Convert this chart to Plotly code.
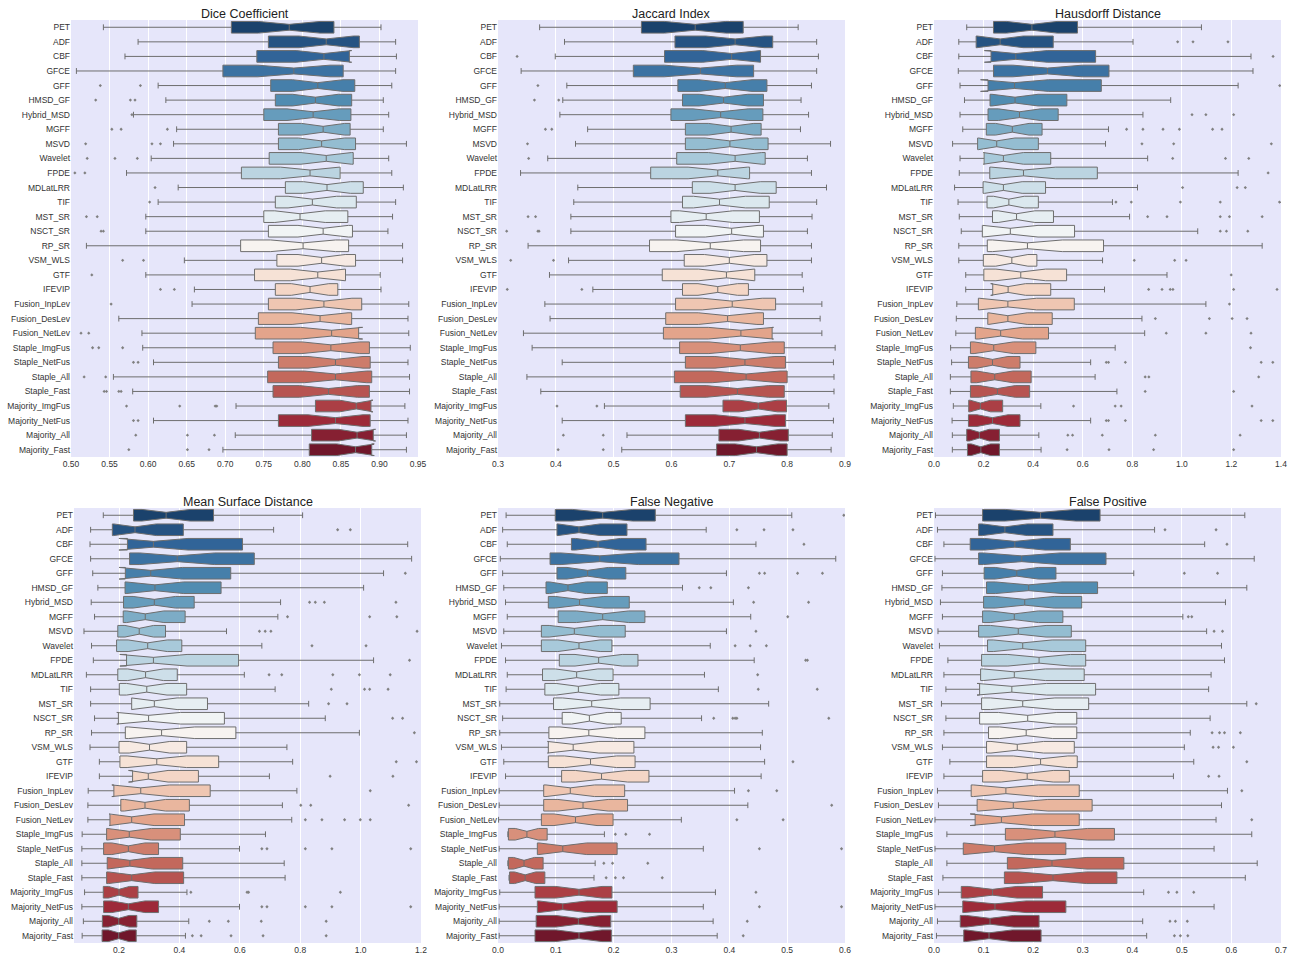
import colorsys
import plotly.graph_objects as go

methods = ["PET", "ADF", "CBF", "GFCE", "GFF", "HMSD_GF", "Hybrid_MSD", "MGFF", "MSVD", "Wavelet",
           "FPDE", "MDLatLRR", "TIF", "MST_SR", "NSCT_SR", "RP_SR", "VSM_WLS", "GTF", "IFEVIP",
           "Fusion_InpLev", "Fusion_DesLev", "Fusion_NetLev", "Staple_ImgFus", "Staple_NetFus",
           "Staple_All", "Staple_Fast", "Majority_ImgFus", "Majority_NetFus", "Majority_All", "Majority_Fast"]

# ---------------- Dice Coefficient ----------------
dice_lo = [.542, .587, .570, .507, .613, .623, .581, .637, .633, .604, .572, .639, .613, .597, .597, .520, .647, .597, .660, .657, .562, .592, .593, .607, .555, .580, .714, .607, .713, .697]
dice_q1 = [.708, .756, .741, .697, .759, .765, .750, .769, .769, .757, .721, .778, .765, .750, .756, .720, .767, .738, .765, .756, .743, .739, .762, .769, .755, .762, .817, .769, .812, .809]
dice_med = [.783, .831, .828, .789, .820, .817, .814, .827, .825, .831, .810, .832, .813, .797, .827, .801, .825, .820, .810, .828, .823, .838, .837, .843, .843, .834, .870, .843, .871, .869]
dice_q3 = [.841, .874, .861, .853, .868, .864, .863, .862, .869, .866, .849, .879, .870, .859, .865, .860, .869, .856, .846, .877, .864, .873, .887, .888, .890, .887, .889, .888, .892, .890]
dice_hi = [.902, .921, .922, .921, .916, .905, .912, .905, .935, .912, .916, .931, .921, .917, .911, .930, .930, .901, .902, .938, .937, .938, .940, .937, .939, .939, .933, .937, .935, .935]
dice_out = [[], [], [], [], [.538, .590], [.532, .577, .583], [.579], [.553, .565, .625], [.519, .605, .616],
            [.521, .557, .586], [.505, .518], [.609], [.602], [.520, .534], [.539, .542], [], [.567, .594],
            [.527], [.616, .634], [.552], [], [.513, .523], [.528, .536, .567], [.581, .587], [.517, .545],
            [.543, .546, .562, .565], [.572, .641, .687, .689], [.581, .587], [.584, .651, .686], [.575, .651, .679]]

# ---------------- Jaccard Index ----------------
jac_lo = [.372, .415, .399, .340, .419, .412, .407, .455, .434, .386, .339, .438, .431, .426, .426, .352, .422, .389, .464, .381, .390, .344, .359, .411, .350, .374, .484, .411, .523, .514]
jac_q1 = [.548, .606, .588, .534, .611, .619, .599, .624, .624, .609, .564, .636, .619, .599, .607, .562, .622, .584, .619, .607, .590, .586, .614, .624, .605, .615, .689, .624, .682, .678]
jac_med = [.641, .710, .704, .650, .693, .690, .685, .703, .701, .710, .680, .710, .683, .660, .704, .667, .700, .695, .680, .705, .697, .720, .719, .727, .729, .714, .750, .727, .752, .747]
jac_q3 = [.724, .775, .754, .742, .765, .759, .758, .755, .767, .762, .735, .781, .769, .752, .759, .754, .765, .744, .733, .780, .759, .774, .795, .797, .800, .795, .799, .797, .802, .800]
jac_hi = [.819, .851, .854, .851, .842, .824, .837, .823, .875, .835, .842, .868, .851, .843, .835, .842, .842, .826, .828, .860, .857, .860, .883, .880, .881, .881, .872, .880, .878, .876]
jac_out = [[], [], [.333], [], [.369], [.363, .405], [], [.382, .393], [.351], [.353], [], [], [], [.352, .365],
           [.315, .369, .371], [], [.322, .396], [], [.316, .445], [], [], [], [], [], [], [],
           [.402, .471], [], [.413, .482], [.404, .482]]

# ---------------- Hausdorff Distance ----------------
hd_lo = [.132, .100, .100, .098, .105, .123, .105, .116, .075, .105, .102, .083, .097, .102, .110, .100, .100, .128, .128, .092, .090, .088, .067, .071, .066, .066, .078, .073, .074, .074]
hd_q1 = [.240, .170, .230, .240, .218, .226, .218, .211, .176, .202, .225, .198, .214, .236, .195, .215, .199, .201, .237, .179, .217, .167, .147, .139, .149, .147, .140, .139, .132, .135]
hd_med = [.395, .267, .330, .458, .325, .327, .345, .316, .253, .280, .361, .280, .302, .333, .308, .377, .314, .350, .299, .298, .298, .269, .241, .236, .245, .256, .187, .236, .183, .189]
hd_q3 = [.579, .481, .652, .706, .675, .536, .501, .436, .421, .471, .659, .450, .421, .482, .567, .684, .415, .535, .471, .566, .477, .462, .411, .347, .392, .386, .277, .347, .264, .264]
hd_hi = [1.079, .803, 1.279, 1.287, 1.227, .955, .843, .704, .692, .862, 1.227, .821, .720, .789, 1.064, 1.324, .680, .940, .688, 1.097, .839, .850, .731, .632, .650, .738, .431, .632, .423, .432]
hd_out = [[], [.983, 1.045, 1.186], [1.368], [], [1.395], [], [1.041, 1.097, 1.209],
          [.777, .843, .924, .990, 1.124, 1.162], [.839, .967, 1.361], [.963, 1.176, 1.270], [1.348],
          [1.003, 1.223, 1.256], [.734, .796, .994, 1.155, 1.394], [.862, .940, 1.155, 1.192, 1.324],
          [1.155, 1.180, 1.266], [], [.808, .971, 1.017], [1.199], [.866, .920, .953, .964, 1.209, 1.384],
          [1.192], [.893, 1.111, 1.203, 1.263], [.937, 1.097, 1.279], [1.277], [.695, .704, .772, 1.320, 1.367],
          [.852, .867, 1.310], [.852, 1.209], [.563, .731, .755, 1.283], [.695, .704, .772, 1.320, 1.367],
          [.540, .559, .679, .893, 1.235], [.537, .706, .886, 1.209]]

# ---------------- Mean Surface Distance ----------------
msd_lo = [.148, .106, .104, .106, .113, .130, .108, .119, .084, .109, .115, .092, .106, .106, .119, .109, .104, .135, .135, .098, .097, .097, .078, .077, .077, .077, .086, .077, .082, .078]
msd_q1 = [.248, .178, .228, .235, .221, .220, .215, .214, .196, .192, .225, .196, .201, .242, .198, .221, .200, .203, .245, .183, .206, .170, .159, .149, .161, .159, .148, .149, .145, .144]
msd_med = [.356, .253, .314, .393, .305, .319, .317, .287, .267, .295, .314, .288, .292, .317, .298, .341, .301, .325, .297, .272, .286, .242, .234, .231, .236, .242, .200, .231, .199, .199]
msd_q3 = [.513, .413, .609, .648, .570, .538, .449, .419, .354, .408, .596, .393, .424, .493, .549, .587, .424, .530, .463, .502, .433, .417, .403, .331, .411, .414, .263, .331, .259, .257]
msd_hi = [.808, .712, 1.156, 1.169, 1.076, 1.010, .735, .726, .556, .673, 1.043, .615, .717, .828, .883, .996, .756, .775, .698, .789, .741, .772, .685, .599, .747, .750, .425, .599, .431, .420]
msd_out = [[], [.924, .966], [], [], [1.148], [], [.831, .850, .880, 1.117], [.758, 1.030, 1.120],
           [.665, .684, .703, 1.187], [.839, 1.018], [1.162], [.697, .739, .908, .996, 1.098],
           [.903, 1.013, 1.030, 1.091], [.894, .955], [1.106, 1.139], [1.178], [], [1.118, 1.185],
           [.899, 1.107], [1.032], [.802, .835, 1.159], [.817, .872, .947, .999, 1.032], [],
           [.673, .690, .817, .905, 1.166], [], [], [.438, .624, .629, .933], [.673, .690, .817, .905, 1.166],
           [.499, .562, .671, .886], [.443, .472, .571, .677, .886]]

# ---------------- False Negative ----------------
fn_lo = [.014, .008, .016, .004, .008, .010, .013, .016, .010, .006, .013, .016, .014, .003, .008, .003, .006, .010, .013, .002, .002, .001, .017, .002, .017, .019, .003, .002, .002, .002]
fn_q1 = [.099, .102, .127, .090, .102, .083, .087, .104, .075, .075, .106, .077, .081, .096, .111, .088, .087, .087, .110, .079, .079, .075, .018, .068, .018, .020, .064, .068, .066, .064]
fn_med = [.181, .140, .173, .176, .155, .121, .141, .181, .132, .140, .174, .136, .139, .162, .158, .157, .130, .160, .179, .125, .147, .134, .050, .112, .045, .047, .140, .112, .139, .140]
fn_q3 = [.272, .223, .256, .313, .221, .189, .227, .254, .220, .197, .242, .199, .209, .263, .213, .254, .235, .237, .261, .219, .224, .199, .085, .206, .078, .081, .197, .206, .195, .196]
fn_hi = [.508, .360, .446, .584, .395, .319, .407, .437, .395, .367, .443, .357, .381, .468, .352, .457, .454, .461, .455, .409, .432, .317, .184, .355, .168, .166, .376, .355, .372, .379]
fn_out = [[.598], [.413, .460, .510], [.529], [], [.452, .461, .518, .561], [.348, .368, .433], [.442, .537],
          [.501], [.446], [.410, .436, .464], [.532, .535], [.449], [.450, .552], [],
          [.373, .406, .410, .413, .572], [], [], [.510], [], [.433, .482], [.577], [.413, .493],
          [.203, .221, .262], [.452, .594], [.183, .198, .259], [.187, .203, .217, .284], [.446],
          [.452, .594], [.431], [.424]]

# ---------------- False Positive ----------------
fp_lo = [.003, .007, .020, .002, .017, .016, .013, .017, .008, .011, .028, .020, .024, .015, .024, .020, .017, .032, .020, .007, .009, .002, .026, .002, .026, .018, .009, .002, .007, .005]
fp_q1 = [.098, .090, .073, .090, .101, .106, .100, .098, .090, .108, .096, .094, .092, .096, .092, .110, .106, .106, .098, .075, .087, .083, .144, .059, .148, .142, .055, .058, .053, .060]
fp_med = [.215, .143, .163, .177, .167, .191, .183, .162, .170, .179, .212, .162, .157, .179, .189, .186, .168, .215, .188, .145, .160, .136, .244, .122, .238, .240, .118, .123, .113, .111]
fp_q3 = [.335, .240, .275, .347, .246, .330, .298, .260, .277, .306, .306, .303, .326, .312, .288, .288, .283, .289, .273, .293, .319, .293, .364, .266, .383, .369, .219, .266, .212, .216]
fp_hi = [.627, .445, .546, .646, .403, .631, .588, .502, .550, .580, .586, .559, .554, .631, .557, .517, .505, .524, .483, .592, .580, .569, .641, .565, .652, .628, .423, .565, .421, .429]
fp_out = [[], [.466, .569], [.591], [], [.505, .572], [], [], [.513, .520], [.565, .582], [], [], [], [],
          [.650], [], [.561, .576, .586, .618], [.563, .574, .604], [.631], [.554, .575], [.621], [],
          [.641], [], [], [], [], [.473, .490, .524], [], [.476, .487, .511], [.485, .497, .512]]

titles = ["Dice Coefficient", "Jaccard Index", "Hausdorff Distance",
          "Mean Surface Distance", "False Negative", "False Positive"]
x_ranges = [[0.5, 0.95], [0.3, 0.9], [0.0, 1.4], [0.051, 1.2], [0.0, 0.6], [0.0, 0.7]]
x_dticks = [0.05, 0.1, 0.2, 0.2, 0.1, 0.1]
x_tick0 = [0.5, 0.3, 0.0, 0.2, 0.0, 0.0]
x_formats = [".2f", ".1f", ".1f", ".1f", ".1f", ".1f"]

metrics = [
    (dice_lo, dice_q1, dice_med, dice_q3, dice_hi, dice_out),
    (jac_lo, jac_q1, jac_med, jac_q3, jac_hi, jac_out),
    (hd_lo, hd_q1, hd_med, hd_q3, hd_hi, hd_out),
    (msd_lo, msd_q1, msd_med, msd_q3, msd_hi, msd_out),
    (fn_lo, fn_q1, fn_med, fn_q3, fn_hi, fn_out),
    (fp_lo, fp_q1, fp_med, fp_q3, fp_hi, fp_out),
]

# ---------- palette: seaborn "RdBu_r" (30 colours) desaturated to 0.75 ----------
RDBU = ["#67001f", "#b2182b", "#d6604d", "#f4a582", "#fddbc7", "#f7f7f7",
        "#d1e5f0", "#92c5de", "#4393c3", "#2166ac", "#053061"]
RDBU_R = RDBU[::-1]


def hex2rgb(h):
    return [int(h[i:i + 2], 16) / 255 for i in (1, 3, 5)]


def cmap(t):
    seg = t * (len(RDBU_R) - 1)
    i = min(int(seg), len(RDBU_R) - 2)
    f = seg - i
    a, b = hex2rgb(RDBU_R[i]), hex2rgb(RDBU_R[i + 1])
    return [a[k] + (b[k] - a[k]) * f for k in range(3)]


def desat(rgb, prop=0.75):
    h, l, s = colorsys.rgb_to_hls(*rgb)
    r, g, b = colorsys.hls_to_rgb(h, l, s * prop)
    return "rgb(%d,%d,%d)" % (round(r * 255), round(g * 255), round(b * 255))


n = len(methods)
box_colors = [desat(cmap((i + 1) / (n + 1))) for i in range(n)]

LINE = "#6e6e6e"
BG = "#E6E6FA"
FONT = "Liberation Sans, Arial, Helvetica, sans-serif"
NOTCH_K = 0.3  # 1.57/sqrt(N) notch factor

W, H = 1293, 953
x_px = [(71, 418), (498, 845), (934, 1281), (74, 421), (498, 845), (934, 1281)]
y_px = [(20, 457)] * 3 + [(508, 943)] * 3

fig = go.Figure()
annotations = []
for k, (lo, q1, med, q3, hi, outs) in enumerate(metrics):
    xa = "x" if k == 0 else "x%d" % (k + 1)
    ya = "y" if k == 0 else "y%d" % (k + 1)
    for i, m in enumerate(methods):
        ns = NOTCH_K * (q3[i] - q1[i])
        fig.add_trace(go.Box(
            y=[m], q1=[q1[i]], median=[med[i]], q3=[q3[i]],
            lowerfence=[lo[i]], upperfence=[hi[i]],
            notched=True, notchspan=[ns], notchwidth=0.25,
            orientation="h", width=0.8, whiskerwidth=0.5,
            fillcolor=box_colors[i], line=dict(color=LINE, width=1),
            boxpoints=False, showlegend=False, hoverinfo="skip",
            xaxis=xa, yaxis=ya))
    ox, oy = [], []
    for i, m in enumerate(methods):
        for v in outs[i]:
            ox.append(v)
            oy.append(m)
    fig.add_trace(go.Scatter(
        x=ox, y=oy, mode="markers",
        marker=dict(symbol="diamond", size=2.5, color="#808080"),
        showlegend=False, hoverinfo="skip", xaxis=xa, yaxis=ya))

    x0, x1 = x_px[k]
    y0, y1 = y_px[k]
    sfx = "" if k == 0 else str(k + 1)
    fig.layout["xaxis" + sfx] = dict(
        domain=[x0 / W, x1 / W], range=x_ranges[k], anchor=ya, automargin=False,
        tick0=x_tick0[k], dtick=x_dticks[k], tickformat=x_formats[k],
        showgrid=True, gridcolor="white", gridwidth=1, zeroline=False,
        showline=False, ticks="", tickfont=dict(size=8.5, color="#333333", family=FONT))
    fig.layout["yaxis" + sfx] = dict(
        domain=[1 - y1 / H, 1 - y0 / H], type="category", automargin=False,
        categoryorder="array", categoryarray=methods,
        range=[n - 0.5, -0.5], anchor=xa, showgrid=False, zeroline=False,
        showline=False, ticks="", tickfont=dict(size=8.5, color="#333333", family=FONT))
    annotations.append(dict(
        text=titles[k], x=(x0 + x1) / 2 / W, y=1 - (y0 - 6) / H,
        xref="paper", yref="paper", xanchor="center", yanchor="middle",
        showarrow=False, font=dict(size=12.5, color="#222222", family=FONT)))

fig.update_layout(
    template="none",
    width=W, height=H, margin=dict(l=0, r=0, t=0, b=0, autoexpand=False),
    plot_bgcolor=BG, paper_bgcolor="white",
    font=dict(family=FONT), annotations=annotations,
    boxmode="overlay")

fig.write_html("out.html", config={"displayModeBar": False},
               post_script="document.body.style.margin='0';document.body.style.overflow='hidden';")
